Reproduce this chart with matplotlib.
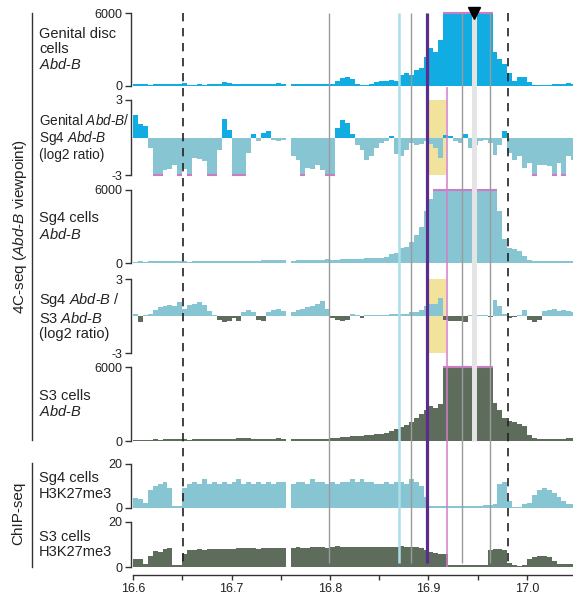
import numpy as np
import matplotlib.pyplot as plt
from matplotlib.lines import Line2D

plt.rcParams['font.family'] = ['Liberation Sans', 'DejaVu Sans']
plt.rcParams['mathtext.fontset'] = 'custom'
plt.rcParams['mathtext.rm'] = 'Liberation Sans'
plt.rcParams['mathtext.it'] = 'Liberation Sans:italic'
plt.rcParams['mathtext.bf'] = 'Liberation Sans:bold'

# genomic bins (Mb), 5 kb wide, left edges
bin_start = 16.6
bin_width = 0.005

# 4C-seq, genital disc cells (counts, clipped at 6000)
genital_4c = [150, 180, 150, 120, 150, 130, 150, 140, 160, 180,
              250, 80, 120, 130, 120, 140, 130, 200, 300, 220,
              150, 130, 160, 140, 180, 150, 200, 170, 160, 230,
              200, 0, 180, 150, 130, 150, 140, 130, 160, 180,
              150, 400, 650, 700, 550, 200, 100, 100, 150, 350,
              420, 450, 500, 450, 900, 1100, 900, 1300, 1500, 2400,
              3100, 2800, 3800, 6000, 6000, 6000, 6000, 6000, 6000, 6000,
              6000, 6000, 6000, 2800, 2200, 1800, 1100, 420, 700, 700,
              300, 100, 100, 100, 120, 130, 180, 200, 230, 180]

# log2 ratio genital / Sg4
ratio_gen_sg4 = [1.8, 1.1, 0.9, -0.8, -3, -3, -2.6, -2.5, -2.2, -3,
                 -2.5, -3, -1.6, -1.7, -1.9, -3, -3, -1.0, 1.5, 0.6,
                 -3, -3, -3, -1.2, 0.3, -0.3, 0.4, 0.5, -0.2, -0.3,
                 -0.2, 0, -1.5, -1.8, -3, -2.4, -2.5, -2.2, -2.6, -3,
                 -3, 0.8, 1.4, 1.2, 0.3, -0.6, -1.0, -1.8, -1.5, -0.8,
                 -0.4, -0.3, 0.1, -1.3, -1.5, -1.0, -0.4, -0.6, -0.5, -0.3,
                 -0.5, -0.8, -1.6, 0.2, 0.1, -0.3, -0.4, 0.3, -0.8, -0.6,
                 -0.3, -0.2, -0.4, -1.4, -0.6, 0.5, -1.2, -1.8, -1.5, -2.4,
                 -2.0, -3, -2.2, -2.2, -2.3, -3, -2.0, -3, -1.5, -1.8]

# 4C-seq, Sg4 cells
sg4_4c = [120, 130, 120, 140, 130, 150, 140, 160, 170, 180,
          200, 100, 150, 160, 170, 160, 180, 200, 190, 180,
          200, 190, 180, 170, 190, 200, 220, 250, 270, 280,
          260, 0, 200, 210, 220, 230, 250, 260, 280, 300,
          250, 280, 300, 320, 330, 340, 360, 380, 400, 420,
          450, 500, 700, 800, 1200, 1300, 1700, 2300, 3000, 4300,
          5300, 6000, 6000, 6000, 6000, 6000, 6000, 6000, 6000, 6000,
          6000, 6000, 6000, 6000, 4300, 2000, 1200, 1150, 1000, 600,
          250, 180, 170, 160, 150, 160, 170, 180, 200, 190]

# log2 ratio Sg4 / S3
ratio_sg4_s3 = [0.2, -0.5, 0.1, 0.2, 0.5, 0.7, 0.8, 0.9, 0.8, 1.1,
                0.6, 0.9, 1.0, 1.1, 0.9, 0.4, 0.1, -0.3, -0.5, -0.4,
                -0.2, -0.4, 0.3, 0.5, 0.3, -0.3, -0.4, 0.3, 0.5, 0.6,
                0.4, 0, 0.3, 0.5, 0.6, 0.7, 0.8, 1.0, 1.2, 0.6,
                -0.2, -0.3, -0.4, -0.3, 0.2, 0.1, -0.2, 0.1, 0.05, 0.1,
                0.05, 0.1, 0.2, 0.15, 0.2, 0.2, 0.3, 0.3, 0.5, 0.8,
                1.0, 1.0, 1.5, -0.3, -0.4, -0.4, -0.4, -0.5, 0.1, 0.05,
                0.1, 0.1, -0.1, 1.3, 0.8, 0.2, -0.2, -0.1, 0.1, 0.5,
                -0.3, -0.5, -0.3, 0.4, 0.5, 0.6, 0.4, 0.5, 0.4, 0.3]

# 4C-seq, S3 cells
s3_4c = [100, 110, 100, 120, 130, 120, 130, 140, 150, 150,
         160, 80, 140, 150, 140, 150, 160, 170, 160, 170,
         180, 220, 250, 230, 200, 180, 170, 190, 200, 220,
         200, 0, 150, 160, 170, 160, 170, 180, 190, 200,
         220, 280, 320, 350, 380, 400, 420, 460, 500, 550,
         600, 650, 800, 1000, 1100, 1300, 1500, 1900, 2200, 2500,
         2800, 2700, 3000, 6000, 6000, 6000, 6000, 6000, 6000, 6000,
         6000, 6000, 6000, 3100, 2500, 1900, 1600, 1500, 1400, 1200,
         450, 250, 200, 180, 170, 160, 180, 200, 220, 230]

# ChIP-seq H3K27me3
chip_sg4 = [4.5, 4, 2.5, 8, 10, 11, 12, 9, 1, 0.8,
            9, 11, 12, 11, 13, 11, 12, 11, 12, 11,
            12, 13, 11, 12, 11, 12, 11, 12, 11, 12,
            12, 0, 11, 12, 12, 11, 13, 12, 12, 11,
            12, 11, 12, 12, 13, 12, 13, 12, 12, 11,
            11, 12, 11, 12, 12, 11, 13, 12, 10, 5,
            1.0, 0.8, 0.8, 0.9, 0.7, 0.8, 0.9, 0.8, 0.7, 0.8,
            0.9, 1.2, 1.5, 2, 11, 12, 3, 0.6, 0.3, 2,
            2.5, 6, 8, 9, 8, 7, 5, 3, 2, 2]

chip_s3 = [3.5, 3.5, 1.5, 5, 7, 6.5, 8, 8.5, 0.8, 0.7,
           6, 7.5, 7.5, 7.8, 7.5, 7.8, 8, 7.8, 8, 8.2,
           8, 8.3, 8.5, 8.3, 8.5, 8.2, 8.4, 8.5, 8.3, 8.6,
           8.5, 0, 8.5, 8.8, 8.6, 8.5, 8.8, 8.7, 8.9, 8.6,
           8.8, 9.2, 9.0, 8.8, 9.0, 9.1, 8.9, 9.0, 8.8, 9.0,
           8.7, 8.9, 9.0, 8.8, 9.2, 9.0, 8.8, 8.9, 8.6, 7.5,
           6.5, 6.2, 6.0, 6.0, 0.8, 0.8, 0.7, 0.8, 0.8, 0.7,
           0.8, 0.8, 7.5, 7.8, 8, 7.5, 2, 0.7, 0.3, 0.8,
           3.5, 4.5, 5, 4.8, 4.5, 2.5, 1.5, 1.5, 1.3, 1.2]

# landmarks (Mb)
dashed_pos = [16.651, 16.981]
gray_pos = [16.799, 16.882, 16.934, 16.962]
cyan_pos = 16.870
purple_pos = 16.898
pink_pos = 16.919
viewpoint_pos = 16.946
yellow_span = (16.900, 16.918)

x_ticks = [16.6, 16.65, 16.7, 16.75, 16.8, 16.85, 16.9, 16.95, 17.0]
x_ticklabels = ['16.6', '', '16.7', '', '16.8', '', '16.9', '', '17.0']

BLUE = '#10ace2'
TEAL = '#88c5d3'
DKGREEN = '#5e6c5c'
MAGENTA = '#cc7cc4'
INK = '#333333'

W, H = 573, 596
X0, X1 = 133, 573
XMAX = 16.6 + (X1 - X0) / 985.0

fig = plt.figure(figsize=(W / 100, H / 100), dpi=100)

n = len(genital_4c)
edges = bin_start + bin_width * np.arange(n + 1)


def add_track(top, bottom, vals, lo, hi, pos_col, neg_col, label, ticklabels, fs=10.5):
    ax = fig.add_axes([X0 / W, 1 - bottom / H, (X1 - X0) / W, (bottom - top) / H])
    ax.patch.set_alpha(0)
    v = np.array(vals, dtype=float)
    ve = np.append(v, v[-1])
    ax.fill_between(edges, 0, np.clip(ve, 0, None), step='post', color=pos_col, lw=0, zorder=2)
    if neg_col is not None:
        ax.fill_between(edges, 0, np.clip(ve, None, 0), step='post', color=neg_col, lw=0, zorder=2)
    # clipped values get a magenta cap
    for i in range(n):
        if v[i] >= hi:
            ax.hlines(hi, edges[i], edges[i + 1], color=MAGENTA, lw=1.5, zorder=3, clip_on=False)
        if lo < 0 and v[i] <= lo:
            ax.hlines(lo, edges[i], edges[i + 1], color=MAGENTA, lw=1.5, zorder=3, clip_on=False)
    ax.set_xlim(16.6, XMAX)
    ax.set_ylim(lo, hi)
    for s in ['top', 'right', 'bottom']:
        ax.spines[s].set_visible(False)
    ax.spines['left'].set_bounds(lo, hi)
    ax.spines['left'].set_position(('outward', 1.5))
    ax.spines['left'].set_color(INK)
    ax.spines['left'].set_linewidth(1.0)
    ax.set_yticks([lo, hi])
    ax.set_yticklabels(ticklabels)
    ax.tick_params(axis='y', length=4, width=1.0, color=INK, labelsize=9, pad=2, labelcolor='#222222')
    ax.set_xticks([])
    ax.text(39 / W, 1 - (top + bottom) / 2 / H, label, transform=fig.transFigure,
            ha='left', va='center', fontsize=fs, linespacing=1.12, color='#222222')
    return ax


ax1 = add_track(13, 86, genital_4c, 0, 6000, BLUE, None,
                'Genital disc\ncells\n$Abd$-$B$', ['0', '6000'])
ax2 = add_track(100, 175, ratio_gen_sg4, -3, 3, BLUE, TEAL,
                'Genital $Abd$-$B$/\nSg4 $Abd$-$B$\n(log2 ratio)', ['-3', '3'], fs=9.8)
ax3 = add_track(190, 263, sg4_4c, 0, 6000, TEAL, None,
                'Sg4 cells\n$Abd$-$B$', ['0', '6000'])
ax4 = add_track(279, 353, ratio_sg4_s3, -3, 3, TEAL, DKGREEN,
                'Sg4 $Abd$-$B$ /\nS3 $Abd$-$B$\n(log2 ratio)', ['-3', '3'])
ax5 = add_track(367, 441, s3_4c, 0, 6000, DKGREEN, None,
                'S3 cells\n$Abd$-$B$', ['0', '6000'])
ax6 = add_track(464, 508, chip_sg4, 0, 20, TEAL, None,
                'Sg4 cells\nH3K27me3', ['0', '20'])
ax7 = add_track(522, 567, chip_s3, 0, 20, DKGREEN, None,
                'S3 cells\nH3K27me3', ['0', '20'])

for ax in (ax2, ax4):
    ax.axvspan(*yellow_span, color='#f1e39c', lw=0, zorder=1)

# bottom coordinate axis
ax7.spines['bottom'].set_visible(True)
ax7.spines['bottom'].set_position(('outward', 6))
ax7.spines['bottom'].set_color(INK)
ax7.spines['bottom'].set_linewidth(1.0)
ax7.set_xticks(x_ticks)
ax7.set_xticklabels(x_ticklabels)
ax7.tick_params(axis='x', length=3.5, width=1.0, color=INK, labelsize=9, pad=2, labelcolor='#222222')
ax7.set_xlim(16.6, XMAX)

# landmark lines across all tracks (y in pixels from top)
ov = fig.add_axes([X0 / W, 0, (X1 - X0) / W, 1])
ov.set_xlim(16.6, XMAX)
ov.set_ylim(H, 0)
ov.axis('off')
ov.patch.set_alpha(0)
ov.vlines(viewpoint_pos, 13, 441, color='#e4e4e4', lw=3.6, zorder=1)
ov.vlines(gray_pos, 13, 563, color='#9b9b9b', lw=1.0, zorder=2)
ov.vlines(cyan_pos, 13, 563, color='#abdfe8', lw=1.8, zorder=2)
ov.vlines(pink_pos, 87, 567, color='#d27fc6', lw=1.1, zorder=2)
ov.vlines(purple_pos, 13, 563, color='#5b2b8e', lw=2.3, zorder=3)
ov.vlines(dashed_pos, 13, 567, color='#222222', lw=1.2, linestyles=(0, (5, 4)), zorder=3)
ov.plot([viewpoint_pos], [13], marker='v', color='black', markersize=8, zorder=4, clip_on=False)

# group brackets and labels
fig.add_artist(Line2D([32 / W, 32 / W], [1 - 13 / H, 1 - 440 / H], color=INK, lw=1.0))
fig.add_artist(Line2D([32 / W, 32 / W], [1 - 463 / H, 1 - 567 / H], color=INK, lw=1.0))
fig.text(20 / W, 1 - 227 / H, '4C-seq ($Abd$-$B$ viewpoint)', rotation=90,
         ha='center', va='center', fontsize=11, color='#222222')
fig.text(18 / W, 1 - 513 / H, 'ChIP-seq', rotation=90,
         ha='center', va='center', fontsize=11, color='#222222')

fig.savefig('out.png', dpi=100)
